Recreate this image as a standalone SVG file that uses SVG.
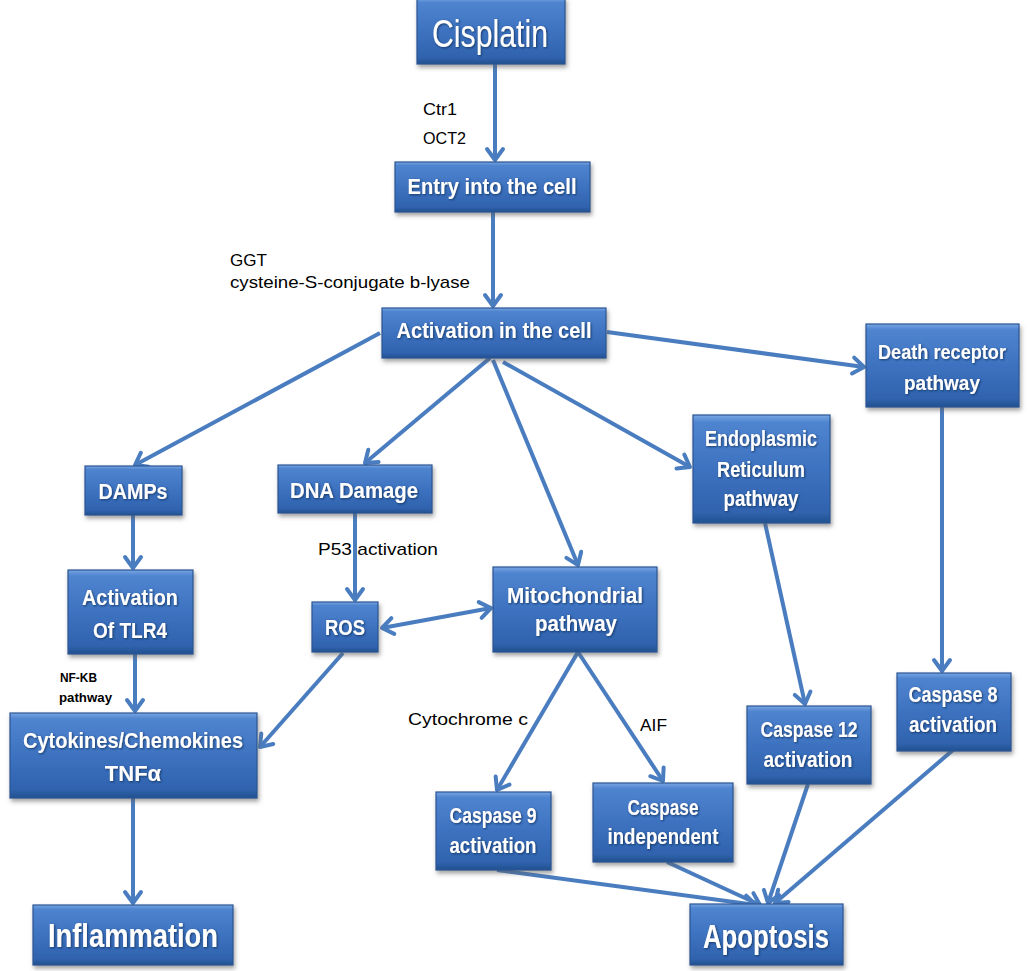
<svg xmlns="http://www.w3.org/2000/svg" width="1030" height="971" viewBox="0 0 1030 971">
<defs>
<linearGradient id="boxg" x1="0" y1="0" x2="0" y2="1">
<stop offset="0" stop-color="#78a6e3"/>
<stop offset="0.07" stop-color="#4f84cf"/>
<stop offset="0.5" stop-color="#3d72c0"/>
<stop offset="0.9" stop-color="#3063ae"/>
<stop offset="1" stop-color="#22508f"/>
</linearGradient>
<filter id="sh" x="-10%" y="-10%" width="125%" height="135%">
<feDropShadow dx="1.5" dy="3" stdDeviation="2" flood-color="#555" flood-opacity="0.55"/>
</filter>
<filter id="tsh" x="-5%" y="-10%" width="110%" height="130%">
<feDropShadow dx="1" dy="1" stdDeviation="0.8" flood-color="#102a55" flood-opacity="0.8"/>
</filter>
<marker id="ah" markerUnits="userSpaceOnUse" markerWidth="22" markerHeight="22" viewBox="0 0 22 22" refX="17" refY="11" orient="auto-start-reverse">
<path d="M6,3 L17,11 L6,19" fill="none" stroke="#4a7dc0" stroke-width="4" stroke-linejoin="round" stroke-linecap="round"/>
</marker>
</defs>
<style>
.box{fill:url(#boxg);stroke:#2a5593;stroke-width:1.2;filter:url(#sh)}
.bt{font-family:"Liberation Sans",Arial,sans-serif;font-weight:bold;fill:#ffffff;text-anchor:middle;font-size:22px;filter:url(#tsh)}
.big{font-weight:normal;font-size:38px}
.lbl{font-family:"Liberation Sans",Arial,sans-serif;fill:#000000;font-size:17px}
.sm{font-size:12px;font-weight:bold}
.con path{fill:none;stroke:#4a7dc0;stroke-width:4;marker-end:url(#ah)}
</style>
<rect width="1030" height="971" fill="#ffffff"/>
<g class="con" id="connectors">
<path d="M495,64 L495,160"/>
<path d="M493,212 L493,306"/>
<path d="M380,333 L135,465"/>
<path d="M490,358 L365,463"/>
<path d="M493,360 L578,565"/>
<path d="M503,362 L690,467"/>
<path d="M607,332 L864,367"/>
<path d="M942,407 L942,671"/>
<path d="M765,523 L805,704"/>
<path d="M133,515 L133,568"/>
<path d="M135,654 L135,711"/>
<path d="M355,513 L355,600"/>
<path d="M382,628 L491,608" style="marker-start:url(#ah)"/>
<path d="M343,653 L260,747"/>
<path d="M578,652 L497,790"/>
<path d="M578,652 L663,781"/>
<path d="M133,798 L133,903"/>
<path d="M497,870 L756,905"/>
<path d="M667,862 L760,905"/>
<path d="M808,784 L768,903"/>
<path d="M953,750 L775,903"/>
</g>
<g id="cisplatin"><rect class="box" x="417" y="-2" width="148" height="66"/><text class="bt big" x="490" y="47" textLength="116" lengthAdjust="spacingAndGlyphs">Cisplatin</text></g>
<g id="entry"><rect class="box" x="395" y="162" width="195" height="50"/><text class="bt" x="492" y="194" textLength="169" lengthAdjust="spacingAndGlyphs">Entry into the cell</text></g>
<g id="activation"><rect class="box" x="382" y="308" width="224" height="50"/><text class="bt" x="494" y="338" textLength="195" lengthAdjust="spacingAndGlyphs">Activation in the cell</text></g>
<g id="death"><rect class="box" x="866" y="324" width="153" height="83"/><text class="bt" x="942" y="359" style="font-size:20px" textLength="128" lengthAdjust="spacingAndGlyphs">Death receptor</text><text class="bt" x="942" y="390" style="font-size:20px" textLength="76" lengthAdjust="spacingAndGlyphs">pathway</text></g>
<g id="er"><rect class="box" x="693" y="415" width="137" height="108"/><text class="bt" x="761" y="446" textLength="112" lengthAdjust="spacingAndGlyphs">Endoplasmic</text><text class="bt" x="761" y="477" textLength="88" lengthAdjust="spacingAndGlyphs">Reticulum</text><text class="bt" x="761" y="506" textLength="75" lengthAdjust="spacingAndGlyphs">pathway</text></g>
<g id="damps"><rect class="box" x="85" y="466" width="97" height="49"/><text class="bt" x="133" y="499" textLength="69" lengthAdjust="spacingAndGlyphs">DAMPs</text></g>
<g id="dna"><rect class="box" x="278" y="465" width="154" height="48"/><text class="bt" x="354" y="498" textLength="128" lengthAdjust="spacingAndGlyphs">DNA Damage</text></g>
<g id="tlr4"><rect class="box" x="68" y="570" width="125" height="84"/><text class="bt" x="130" y="605" textLength="96" lengthAdjust="spacingAndGlyphs">Activation</text><text class="bt" x="130" y="638" textLength="74" lengthAdjust="spacingAndGlyphs">Of TLR4</text></g>
<g id="ros"><rect class="box" x="312" y="602" width="66" height="50"/><text class="bt" x="345" y="635" textLength="40" lengthAdjust="spacingAndGlyphs">ROS</text></g>
<g id="mito"><rect class="box" x="493" y="567" width="164" height="85"/><text class="bt" x="575" y="603" textLength="136" lengthAdjust="spacingAndGlyphs">Mitochondrial</text><text class="bt" x="576" y="631" textLength="82" lengthAdjust="spacingAndGlyphs">pathway</text></g>
<g id="cyto"><rect class="box" x="10" y="713" width="247" height="85"/><text class="bt" x="133" y="748" textLength="220" lengthAdjust="spacingAndGlyphs">Cytokines/Chemokines</text><text class="bt" x="133" y="781">TNFα</text></g>
<g id="casp8"><rect class="box" x="897" y="673" width="114" height="78"/><text class="bt" x="953" y="702" textLength="89" lengthAdjust="spacingAndGlyphs">Caspase 8</text><text class="bt" x="953" y="732" textLength="88" lengthAdjust="spacingAndGlyphs">activation</text></g>
<g id="casp12"><rect class="box" x="747" y="706" width="124" height="78"/><text class="bt" x="809" y="737" textLength="97" lengthAdjust="spacingAndGlyphs">Caspase 12</text><text class="bt" x="808" y="767" textLength="89" lengthAdjust="spacingAndGlyphs">activation</text></g>
<g id="casp9"><rect class="box" x="436" y="792" width="115" height="78"/><text class="bt" x="493" y="823" textLength="87" lengthAdjust="spacingAndGlyphs">Caspase 9</text><text class="bt" x="493" y="853" textLength="87" lengthAdjust="spacingAndGlyphs">activation</text></g>
<g id="caspind"><rect class="box" x="593" y="783" width="140" height="79"/><text class="bt" x="663" y="815" textLength="71" lengthAdjust="spacingAndGlyphs">Caspase</text><text class="bt" x="663" y="844" textLength="111" lengthAdjust="spacingAndGlyphs">independent</text></g>
<g id="inflammation"><rect class="box" x="33" y="905" width="200" height="60"/><text class="bt big" x="133" y="947" style="font-weight:bold;font-size:34px" textLength="170" lengthAdjust="spacingAndGlyphs">Inflammation</text></g>
<g id="apoptosis"><rect class="box" x="690" y="904" width="153" height="61"/><text class="bt big" x="766" y="948" style="font-weight:bold;font-size:34px" textLength="126" lengthAdjust="spacingAndGlyphs">Apoptosis</text></g>
<g id="labels">
<text class="lbl" x="423" y="115" textLength="34" lengthAdjust="spacingAndGlyphs">Ctr1</text>
<text class="lbl" x="423" y="144" textLength="43" lengthAdjust="spacingAndGlyphs">OCT2</text>
<text class="lbl" x="230" y="266" textLength="37" lengthAdjust="spacingAndGlyphs">GGT</text>
<text class="lbl" x="230" y="288" textLength="240" lengthAdjust="spacingAndGlyphs">cysteine-S-conjugate b-lyase</text>
<text class="lbl" x="318" y="555" textLength="120" lengthAdjust="spacingAndGlyphs">P53 activation</text>
<text class="lbl sm" x="60" y="682" textLength="37" lengthAdjust="spacingAndGlyphs">NF-KB</text>
<text class="lbl sm" x="59" y="702" textLength="53" lengthAdjust="spacingAndGlyphs">pathway</text>
<text class="lbl" x="408" y="725" textLength="120" lengthAdjust="spacingAndGlyphs">Cytochrome c</text>
<text class="lbl" x="640" y="731" textLength="27" lengthAdjust="spacingAndGlyphs">AIF</text>
</g>
</svg>
